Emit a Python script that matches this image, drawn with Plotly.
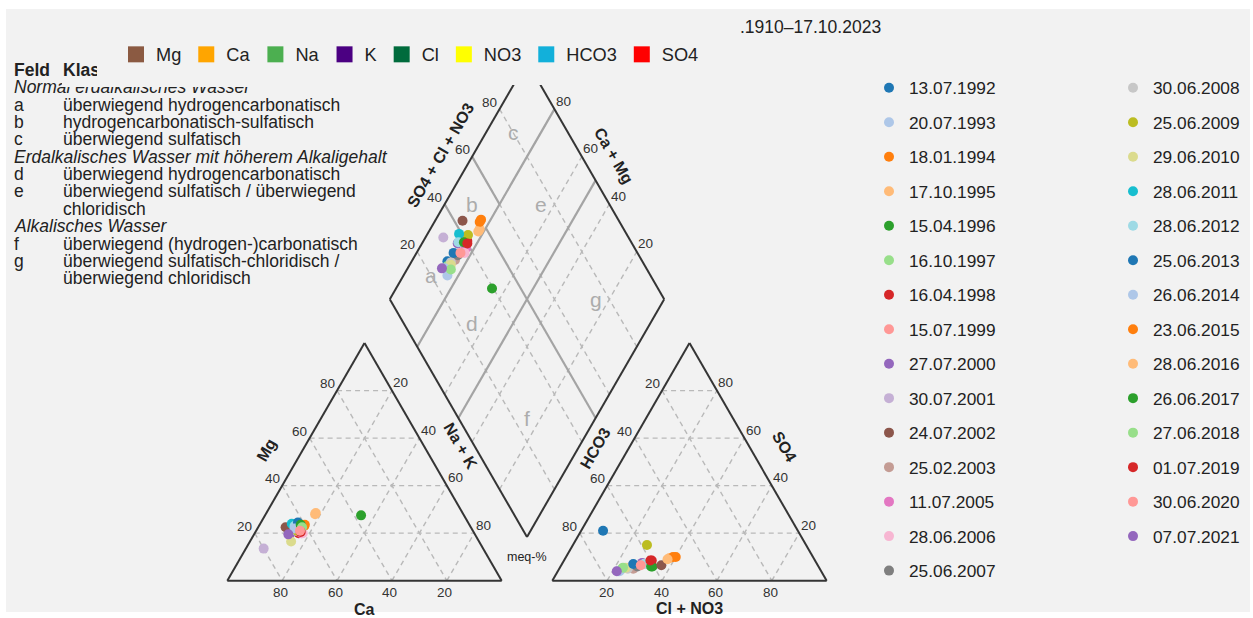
import math
import plotly.graph_objects as go

# ---------------- sample data (meq-%) ----------------
dates = [
    "13.07.1992", "20.07.1993", "18.01.1994", "17.10.1995", "15.04.1996",
    "16.10.1997", "16.04.1998", "15.07.1999", "27.07.2000", "30.07.2001",
    "24.07.2002", "25.02.2003", "11.07.2005", "28.06.2006", "25.06.2007",
    "30.06.2008", "25.06.2009", "29.06.2010", "28.06.2011", "28.06.2012",
    "25.06.2013", "26.06.2014", "23.06.2015", "28.06.2016", "26.06.2017",
    "27.06.2018", "01.07.2019", "30.06.2020", "07.07.2021",
]
# cations
ca = [63, 63, 60.5, 54, 37.5, 64, 64, 64, 67.5, 80,
      67.5, 63.5, 63, 62.5, 62.5, 64.5, 64, 68.5, 64.5, 64,
      62, 64.5, 60, 53.5, 61.5, 61.5, 63, 63, 68]
mg = [24, 21, 23, 28, 27.5, 22, 20, 21, 19.5, 13.5,
      22.5, 21, 20, 20, 22, 21, 21, 16.5, 24, 23,
      24.5, 22, 23.5, 28.5, 23.5, 22.5, 20.5, 21, 19.5]
na_k = [13, 16, 16.5, 18, 35, 14, 16, 15, 13, 6.5,
        10, 15.5, 17, 17.5, 15.5, 14.5, 15, 15, 11.5, 13,
        13.5, 13.5, 16.5, 18, 15, 16, 16.5, 16, 12.5]
# anions
hco3 = [71, 74, 50, 52.5, 60.5, 72, 59.5, 67, 63.5, 67.5,
        57, 68, 61.5, 63, 66, 70, 58, 70.5, 61, 63,
        67, 73.5, 51, 53.5, 61, 71.5, 60, 64.5, 74.5]
so4 = [21, 4, 10, 9.5, 6, 5, 8.5, 6, 7.5, 6.5,
       6.5, 5, 7, 7, 6, 5, 15, 5.5, 7, 7,
       7, 4, 10, 9, 6, 5.5, 8.5, 6.5, 4]
cl_no3 = [8, 22, 40, 38, 33.5, 23, 32, 27, 29, 26,
          36.5, 27, 31.5, 30, 28, 25, 27, 24, 32, 30,
          26, 22.5, 39, 37.5, 33, 23, 31.5, 29, 21.5]

sample_colors = [
    "#1f77b4", "#aec7e8", "#ff7f0e", "#ffbb78", "#2ca02c", "#98df8a",
    "#d62728", "#ff9896", "#9467bd", "#c5b0d5", "#8c564b", "#c49c94",
    "#e377c2", "#f7b6d2", "#7f7f7f", "#c7c7c7", "#bcbd22", "#dbdb8d",
    "#17becf", "#9edae5", "#1f77b4", "#aec7e8", "#ff7f0e", "#ffbb78",
    "#2ca02c", "#98df8a", "#d62728", "#ff9896", "#9467bd",
]

ion_names = ["Mg", "Ca", "Na", "K", "Cl", "NO3", "HCO3", "SO4"]
ion_colors = ["#8B5A42", "#FFA500", "#4CAF50", "#4B0082", "#006B3C",
              "#FFFF00", "#12B0DA", "#FF0000"]

ticks = [20, 40, 60, 80]

# classification fields (letter, SO4+Cl+NO3 %, Na+K %)
field_letters = ["a", "b", "c", "d", "e", "f", "g"]
field_u = [20, 50, 80, 25, 75, 25, 75]
field_v = [10, 10, 10, 35, 35, 75, 75]

legend_rows = [
    ("<b>Feld</b>", "<b>Klasse</b>"),
    ("<i>Normal erdalkalisches Wasser</i>", None),
    ("a", "überwiegend hydrogencarbonatisch"),
    ("b", "hydrogencarbonatisch-sulfatisch"),
    ("c", "überwiegend sulfatisch"),
    ("<i>Erdalkalisches Wasser mit höherem Alkaligehalt</i>", None),
    ("d", "überwiegend hydrogencarbonatisch"),
    ("e", "überwiegend sulfatisch / überwiegend"),
    ("", "chloridisch"),
    ("<i>Alkalisches Wasser</i>", None),
    ("f", "überwiegend (hydrogen-)carbonatisch"),
    ("g", "überwiegend sulfatisch-chloridisch /"),
    ("", "überwiegend chloridisch"),
]

period_text = ".1910–17.10.2023"

# ---------------- Piper geometry ----------------
W, H = 1253, 618
S = 2.744              # pixels per percent unit
X0, Y0 = 227.3, 580.7  # pixel position of the cation triangle's Ca corner
TOP = 85               # top edge of the drawing area (px)
GAP = 18.44            # gap between the two triangles
SQ = math.sqrt(3) / 2
LX, LY = 50 + GAP / 2, 100 * SQ + GAP * SQ  # left corner of the diamond

FONT = "Liberation Sans, Arial, sans-serif"
DARK = "#222222"


def cat_xy(c, m, n):
    return n + m / 2, m * SQ


def an_xy(h, s, c):
    return 100 + GAP + c + s / 2, s * SQ


def dia_xy(u, v):
    return LX + (u + v) / 2, LY + (u - v) * SQ


def segs(pairs):
    xs, ys = [], []
    for (a, b) in pairs:
        xs += [a[0], b[0], None]
        ys += [a[1], b[1], None]
    return xs, ys


fig = go.Figure()

# dashed grid
grid = []
for p in ticks:
    q = 100 - p
    grid += [
        (cat_xy(q, p, 0), cat_xy(0, p, q)),
        (cat_xy(p, q, 0), cat_xy(p, 0, q)),
        (cat_xy(q, 0, p), cat_xy(0, q, p)),
        (an_xy(q, p, 0), an_xy(0, p, q)),
        (an_xy(p, q, 0), an_xy(p, 0, q)),
        (an_xy(q, 0, p), an_xy(0, q, p)),
        (dia_xy(p, 0), dia_xy(p, 100)),
        (dia_xy(0, p), dia_xy(100, p)),
    ]
gx, gy = segs(grid)
fig.add_trace(go.Scatter(x=gx, y=gy, mode="lines", showlegend=False, hoverinfo="skip",
                         line=dict(color="#b9b9b9", width=1.4, dash="5px,4px")))

# field boundaries in the diamond
fields = [
    (dia_xy(40, 0), dia_xy(40, 20)),
    (dia_xy(60, 0), dia_xy(60, 20)),
    (dia_xy(50, 20), dia_xy(50, 100)),
    (dia_xy(0, 20), dia_xy(100, 20)),
    (dia_xy(0, 50), dia_xy(100, 50)),
]
fx, fy = segs(fields)
fig.add_trace(go.Scatter(x=fx, y=fy, mode="lines", showlegend=False, hoverinfo="skip",
                         line=dict(color="#a4a4a4", width=2.2)))

# outlines
outl = []
for poly in (
    [cat_xy(100, 0, 0), cat_xy(0, 0, 100), cat_xy(0, 100, 0)],
    [an_xy(100, 0, 0), an_xy(0, 0, 100), an_xy(0, 100, 0)],
    [dia_xy(0, 0), dia_xy(100, 0), dia_xy(100, 100), dia_xy(0, 100)],
):
    for i in range(len(poly)):
        outl.append((poly[i], poly[(i + 1) % len(poly)]))
ox, oy = segs(outl)
fig.add_trace(go.Scatter(x=ox, y=oy, mode="lines", showlegend=False, hoverinfo="skip",
                         line=dict(color="#353535", width=2)))

# ion colour key
for name, col in zip(ion_names, ion_colors):
    fig.add_trace(go.Scatter(x=[None], y=[None], mode="markers", name=name,
                             legend="legend",
                             marker=dict(symbol="square", size=16, color=col)))

# samples: one point in each triangle and one in the diamond
for i, d in enumerate(dates):
    cx, cy = cat_xy(ca[i], mg[i], na_k[i])
    axx, ayy = an_xy(hco3[i], so4[i], cl_no3[i])
    dx, dy = dia_xy(so4[i] + cl_no3[i], na_k[i])
    fig.add_trace(go.Scatter(
        x=[cx, axx, dx], y=[cy, ayy, dy], mode="markers", name=d,
        legendgroup=d, legend="legend2" if i < 15 else "legend3",
        marker=dict(size=10, color=sample_colors[i]),
    ))

ann = []


def dtext(x, y, text, size=13.5, dx=0, dy=0, angle=0, color="#333333"):
    ann.append(dict(x=x, y=y, xref="x", yref="y", text=text, showarrow=False,
                    xshift=dx, yshift=dy, textangle=angle,
                    font=dict(family=FONT, size=size, color=color)))


# tick labels
for p in ticks:
    q = 100 - p
    x, y = cat_xy(p, 0, q); dtext(x, y, str(p), dx=-2, dy=-12)
    x, y = cat_xy(q, p, 0); dtext(x, y, str(p), dx=-10, dy=7)
    x, y = cat_xy(0, q, p); dtext(x, y, str(p), dx=9, dy=8)
    x, y = an_xy(q, 0, p); dtext(x, y, str(p), dx=-1, dy=-12)
    x, y = an_xy(p, q, 0); dtext(x, y, str(p), dx=-10, dy=7)
    x, y = an_xy(0, p, q); dtext(x, y, str(p), dx=9, dy=8)
    x, y = dia_xy(p, 0); dtext(x, y, str(p), dx=-10, dy=7)
    x, y = dia_xy(100, q); dtext(x, y, str(p), dx=9, dy=8)

# axis titles
TS = 16
x, y = cat_xy(50, 50, 0); dtext(x, y, "<b>Mg</b>", TS, dx=-29, dy=12, angle=-60, color=DARK)
x, y = cat_xy(50, 0, 50); dtext(x, y, "<b>Ca</b>", TS, dx=0, dy=-29, color=DARK)
x, y = cat_xy(0, 50, 50); dtext(x, y, "<b>Na + K</b>", TS, dx=27, dy=16, angle=60, color=DARK)
x, y = an_xy(50, 50, 0); dtext(x, y, "<b>HCO3</b>", TS, dx=-25, dy=14, angle=-60, color=DARK)
x, y = an_xy(50, 0, 50); dtext(x, y, "<b>Cl + NO3</b>", TS, dx=0, dy=-28, color=DARK)
x, y = an_xy(0, 50, 50); dtext(x, y, "<b>SO4</b>", TS, dx=26, dy=15, angle=60, color=DARK)
x, y = dia_xy(50, 0); dtext(x, y, "<b>SO4 + Cl + NO3</b>", TS, dx=-18, dy=25, angle=-60, color=DARK)
x, y = dia_xy(100, 50); dtext(x, y, "<b>Ca + Mg</b>", TS, dx=18, dy=25, angle=60, color=DARK)
x, y = dia_xy(0, 100); dtext(x, y, "meq-%", 12.5, dx=0, dy=-20, color=DARK)

# field letters
for lt, u, v in zip(field_letters, field_u, field_v):
    x, y = dia_xy(u, v)
    dtext(x, y, lt, 21, color="#acacac")


def ptext(px, py, text, size=17.5, anchor="left", color=DARK):
    ann.append(dict(x=px / W, y=1 - py / H, xref="paper", yref="paper", text=text,
                    showarrow=False, xanchor=anchor, yanchor="middle",
                    font=dict(family=FONT, size=size, color=color)))


# classification key on the left
for i, (c1, c2) in enumerate(legend_rows):
    yy = 70 + 17.35 * i
    ptext(12, yy, c1)
    if c2 is not None:
        ptext(61, yy, c2)

ptext(738, 27, period_text, 17.5)


def cover(x0, y0, x1, y1):
    ann.append(dict(x=x0 / W, y=1 - y0 / H, xref="paper", yref="paper", text=" ",
                    showarrow=False, xanchor="left", yanchor="top",
                    width=x1 - x0, height=y1 - y0, bgcolor="#f2f2f2", borderpad=0,
                    borderwidth=0))


cover(97, 58, 126, 79)
cover(62, 79, 270, 87)

fig.update_layout(
    width=W, height=H,
    margin=dict(l=0, r=0, t=0, b=0),
    paper_bgcolor="white",
    plot_bgcolor="rgba(0,0,0,0)",
    xaxis=dict(range=[-X0 / S, (W - X0) / S], domain=[0, 1], visible=False, fixedrange=True),
    yaxis=dict(range=[-(H - Y0) / S, (Y0 - TOP) / S], domain=[0, (H - TOP) / H],
               visible=False, fixedrange=True),
    shapes=[dict(type="rect", xref="paper", yref="paper", layer="below",
                 x0=6 / W, x1=1250 / W, y0=1 - 612 / H, y1=1 - 9 / H,
                 fillcolor="#f2f2f2", line=dict(width=0))],
    annotations=ann,
    showlegend=True,
    legend=dict(orientation="h", x=116 / W, y=1 - 36 / H, xanchor="left", yanchor="top",
                bgcolor="rgba(0,0,0,0)", font=dict(family=FONT, size=18.2, color=DARK)),
    legend2=dict(orientation="v", x=869 / W, y=1 - 70 / H, xanchor="left", yanchor="top",
                 traceorder="grouped", tracegroupgap=9, bgcolor="rgba(0,0,0,0)",
                 font=dict(family=FONT, size=17.3, color=DARK)),
    legend3=dict(orientation="v", x=1113 / W, y=1 - 70 / H, xanchor="left", yanchor="top",
                 traceorder="grouped", tracegroupgap=9, bgcolor="rgba(0,0,0,0)",
                 font=dict(family=FONT, size=17.3, color=DARK)),
)

fig.write_html("out.html")
